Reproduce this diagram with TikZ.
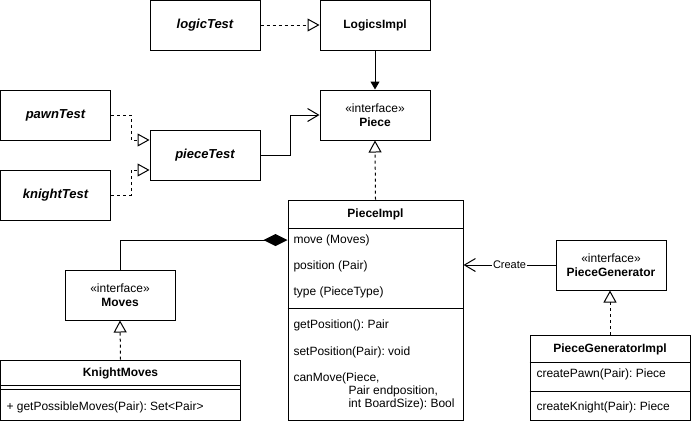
\documentclass[tikz,border=0pt]{standalone}
\usepackage{fontspec}
\setmainfont{Liberation Sans}
\usetikzlibrary{arrows.meta}
\frenchspacing
\begin{document}
\begin{tikzpicture}[x=1pt,y=-1pt,line width=1pt,
  box/.style={draw,fill=white,minimum width=110pt,minimum height=50pt,inner sep=0pt,align=center},
  testfont/.style={font=\fontsize{13}{15}\selectfont\bfseries\itshape},
  headfont/.style={font=\fontsize{12}{14}\selectfont\bfseries},
  iface/.style={font=\fontsize{12}{13.5}\selectfont},
  member/.style={anchor=west,inner sep=0pt,font=\fontsize{12}{14}\selectfont,text height=8.6pt,text depth=2.4pt},
  dsh/.style={dash pattern=on 3pt off 3pt},
  realize/.style={dsh,-{Triangle[open,length=12pt,width=13pt]}},
  openarrow/.style={-{Straight Barb[length=11pt,width=13pt]}},
  assoc/.style={-{Triangle[length=8pt,width=9pt]}},
  compose/.style={-{Diamond[length=24pt,width=12pt]}},
  lbl/.style={fill=white,inner sep=1pt,font=\fontsize{11}{13}\selectfont}
]
\useasboundingbox (0,0) rectangle (692,424);

% simple boxes
\node[box,testfont] (logicTest) at (205,25) {logicTest};
\node[box,headfont] (LogicsImpl) at (375,25) {LogicsImpl};
\node[box,iface] (Piece) at (375,115) {«interface»\\\textbf{Piece}};
\node[box,testfont] (pawnTest) at (55.5,115) {pawnTest};
\node[box,testfont] (pieceTest) at (205,155) {pieceTest};
\node[box,testfont] (knightTest) at (55.5,195) {knightTest};
\node[box,iface] (Moves) at (120,295) {«interface»\\\textbf{Moves}};
\node[box,iface] (PieceGenerator) at (611,265) {«interface»\\\textbf{PieceGenerator}};

% PieceImpl class
\node[box,minimum width=175pt,minimum height=220pt] (PieceImpl) at (375.5,310) {};
\node[headfont,inner sep=0pt] (piTitle) at (375.5,214) {PieceImpl};
\draw (PieceImpl.west |- 0,228) -- (PieceImpl.east |- 0,228);
\draw (PieceImpl.west |- 0,308) -- (PieceImpl.east |- 0,308);
\node[member] (piMove) at (293,240) {move (Moves)};
\node[member] (piPos) at (293,266) {position (Pair)};
\node[member] (piType) at (293,292) {type (PieceType)};
\node[member] (piGet) at (293,325) {getPosition(): Pair};
\node[member] (piSet) at (293,352) {setPosition(Pair): void};
\node[member] (piCan1) at (293,378) {canMove(Piece,};
\node[member] (piCan2) at (348,391) {Pair endposition,};
\node[member] (piCan3) at (348,404) {int BoardSize): Bool};

% KnightMoves class
\node[box,minimum width=240pt,minimum height=60pt] (KnightMoves) at (120.5,390) {};
\node[headfont,inner sep=0pt] (kmTitle) at (120.5,373) {KnightMoves};
\draw (KnightMoves.west |- 0,385) -- (KnightMoves.east |- 0,385);
\draw (KnightMoves.west |- 0,389) -- (KnightMoves.east |- 0,389);
\node[member] (kmGet) at (6,407) {+ getPossibleMoves(Pair): Set<Pair>};

% PieceGeneratorImpl class
\node[box,minimum width=160pt,minimum height=85pt] (PieceGenImpl) at (610,377.5) {};
\node[headfont,inner sep=0pt] (pgTitle) at (610,349) {PieceGeneratorImpl};
\draw (PieceGenImpl.west |- 0,362) -- (PieceGenImpl.east |- 0,362);
\draw (PieceGenImpl.west |- 0,391) -- (PieceGenImpl.east |- 0,391);
\node[member] (pgPawn) at (536,374) {createPawn(Pair): Piece};
\node[member] (pgKnight) at (536,407) {createKnight(Pair): Piece};

% connectors
\draw[realize] (logicTest) -- (LogicsImpl);
\draw[assoc] (LogicsImpl) -- (Piece);
\draw[openarrow] (pieceTest.east) -- ++(30,0) |- (Piece.west);
\draw[realize] (pawnTest.east) -- ++(20,0) |- ([yshift=15pt]pieceTest.west);
\draw[realize] (knightTest.east) -- ++(20,0) |- ([yshift=-15pt]pieceTest.west);
\draw[realize] (PieceImpl.north) -- (Piece.south);
\draw[compose] (Moves.north) |- ([yshift=70pt]PieceImpl.west);
\draw[realize] (KnightMoves.north) -- (Moves.south);
\draw[realize] (PieceGenImpl.north) -- (PieceGenImpl.north |- PieceGenerator.south);
\draw[openarrow] (PieceGenerator.west) -- node[lbl] (createLbl) {Create} (PieceGenerator.west -| PieceImpl.east);
\end{tikzpicture}
\end{document}
